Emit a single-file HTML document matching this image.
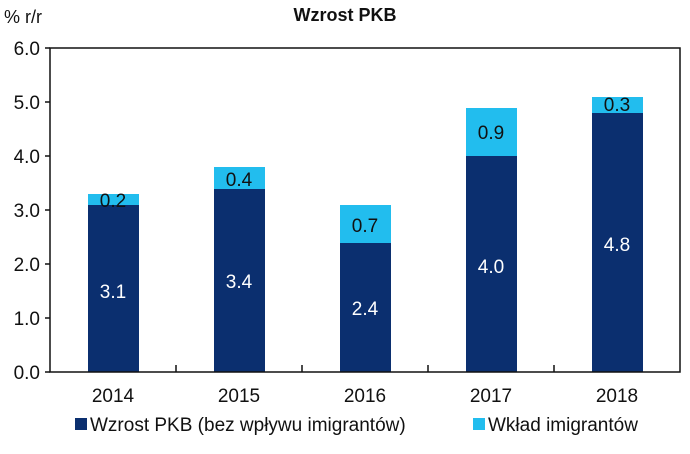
<!DOCTYPE html>
<html><head><meta charset="utf-8"><style>
body{margin:0;background:#fff;}
text{font-family:"Liberation Sans",Arial,sans-serif;}
</style></head><body>
<svg width="690" height="449" viewBox="0 0 690 449" xmlns="http://www.w3.org/2000/svg">
<rect width="690" height="449" fill="#fff"/>
<text x="345" y="21" font-size="18" font-weight="bold" text-anchor="middle" fill="#111">Wzrost PKB</text>
<text x="4" y="23" font-size="18" fill="#111">% r/r</text>
<g font-size="19" fill="#111" text-anchor="end">
<text x="40" y="55">6.0</text><text x="40" y="109">5.0</text><text x="40" y="163">4.0</text>
<text x="40" y="217">3.0</text><text x="40" y="271">2.0</text><text x="40" y="325">1.0</text><text x="40" y="379">0.0</text>
</g>
<g>
<rect x="88" y="205" width="51" height="167" fill="#0b2f6f"/><rect x="88" y="194" width="51" height="11" fill="#22bdee"/>
<rect x="214" y="189" width="51" height="183" fill="#0b2f6f"/><rect x="214" y="167" width="51" height="22" fill="#22bdee"/>
<rect x="340" y="243" width="51" height="129" fill="#0b2f6f"/><rect x="340" y="205" width="51" height="38" fill="#22bdee"/>
<rect x="466" y="156" width="51" height="216" fill="#0b2f6f"/><rect x="466" y="108" width="51" height="48" fill="#22bdee"/>
<rect x="592" y="113" width="51" height="259" fill="#0b2f6f"/><rect x="592" y="97" width="51" height="16" fill="#22bdee"/>
</g>
<g font-size="19" text-anchor="middle">
<text x="113" y="207" fill="#111">0.2</text><text x="113" y="298" fill="#fff">3.1</text>
<text x="239" y="186" fill="#111">0.4</text><text x="239" y="288" fill="#fff">3.4</text>
<text x="365" y="232" fill="#111">0.7</text><text x="365" y="315" fill="#fff">2.4</text>
<text x="491" y="139" fill="#111">0.9</text><text x="491" y="273" fill="#fff">4.0</text>
<text x="617" y="111" fill="#111">0.3</text><text x="617" y="251" fill="#fff">4.8</text>
</g>
<rect x="50" y="48" width="630" height="324" fill="none" stroke="#111" stroke-width="1.5"/>
<g stroke="#111" stroke-width="1.5">
<line x1="45" y1="48" x2="50" y2="48"/><line x1="45" y1="102" x2="50" y2="102"/><line x1="45" y1="156" x2="50" y2="156"/>
<line x1="45" y1="210" x2="50" y2="210"/><line x1="45" y1="264" x2="50" y2="264"/><line x1="45" y1="318" x2="50" y2="318"/>
<line x1="45" y1="372" x2="50" y2="372"/>
<line x1="176" y1="365" x2="176" y2="372"/><line x1="302" y1="365" x2="302" y2="372"/>
<line x1="428" y1="365" x2="428" y2="372"/><line x1="554" y1="365" x2="554" y2="372"/>
</g>
<g font-size="19" fill="#111" text-anchor="middle">
<text x="113" y="402">2014</text><text x="239" y="402">2015</text><text x="365" y="402">2016</text>
<text x="491" y="402">2017</text><text x="617" y="402">2018</text>
</g>
<rect x="75" y="418" width="12" height="12" fill="#0b2f6f"/>
<text x="90" y="431" font-size="19" fill="#111">Wzrost PKB (bez wpływu imigrantów)</text>
<rect x="473" y="418" width="12" height="12" fill="#22bdee"/>
<text x="488" y="431" font-size="19" fill="#111">Wkład imigrantów</text>
</svg>
</body></html>
